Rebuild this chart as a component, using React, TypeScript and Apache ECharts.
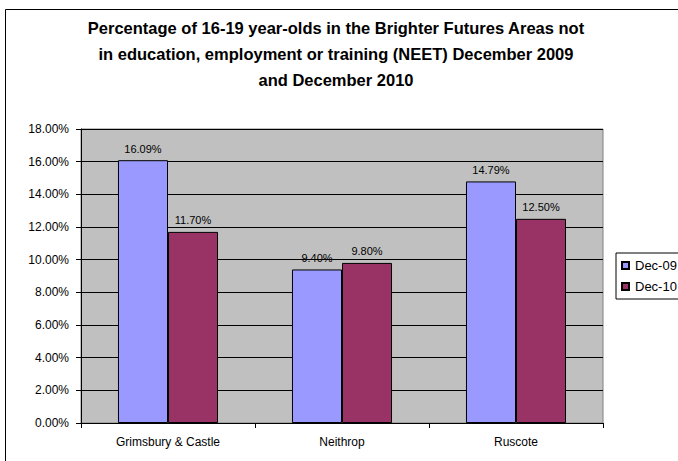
import React, { useEffect, useRef } from "react";
import * as echarts from "echarts";

const categories = ["Grimsbury & Castle", "Neithrop", "Ruscote"];
const seriesNames = ["Dec-09", "Dec-10"];
const dec09 = [0.1609, 0.094, 0.1479];
const dec10 = [0.117, 0.098, 0.125];
const titleText =
  "Percentage of 16-19 year-olds in the Brighter Futures Areas not\nin education, employment or training (NEET) December 2009\nand December 2010";
const yMin = 0;
const yMax = 0.18;
const yInterval = 0.02;

const FONT = "'Liberation Sans', Arial, sans-serif";

const pct = (v: number) => (v * 100).toFixed(2) + "%";

export default function App() {
  const ref = useRef<HTMLDivElement>(null);
  useEffect(() => {
    if (!ref.current) return;
    const chart = echarts.init(ref.current, undefined, { renderer: "svg" });
    const colors = ["#9999FF", "#993366"];
    chart.setOption({
      animation: false,
      backgroundColor: "#ffffff",
      textStyle: { fontFamily: FONT },
      title: {
        text: titleText,
        left: 331,
        top: 10,
        textAlign: "center",
        textStyle: {
          fontFamily: FONT,
          fontSize: 16.5,
          fontWeight: "bold",
          color: "#000",
          lineHeight: 26,
        },
      },
      graphic: [
        {
          type: "rect",
          shape: { x: 5.5, y: 9.5, width: 900, height: 900 },
          style: { fill: "none", stroke: "#000", lineWidth: 1 },
          silent: true,
          z: -1,
        },
      ],
      legend: {
        orient: "vertical",
        left: 616,
        top: 253,
        padding: [6, 40, 6, 5],
        itemGap: 8,
        itemWidth: 7,
        itemHeight: 7,
        icon: "rect",
        borderColor: "#000",
        borderWidth: 1,
        textStyle: { fontFamily: FONT, fontSize: 13, color: "#000", padding: [0, 0, 0, 1] },
        data: seriesNames,
      },
      grid: {
        left: 81,
        right: 75,
        top: 129,
        bottom: 38,
        show: true,
        backgroundColor: "#C0C0C0",
        borderColor: "#808080",
        borderWidth: 1,
        containLabel: false,
      },
      xAxis: {
        type: "category",
        data: categories,
        axisLine: { lineStyle: { color: "#000", width: 1 } },
        axisTick: { show: true, alignWithLabel: false, length: 5, lineStyle: { color: "#000" } },
        axisLabel: { fontFamily: FONT, fontSize: 12, color: "#000", margin: 13 },
        splitLine: { show: false },
      },
      yAxis: {
        type: "value",
        min: yMin,
        max: yMax,
        interval: yInterval,
        axisLine: { show: true, lineStyle: { color: "#000", width: 1 } },
        axisTick: { show: true, length: 5, lineStyle: { color: "#000" } },
        axisLabel: {
          fontFamily: FONT,
          fontSize: 12,
          color: "#000",
          margin: 12,
          formatter: (v: number) => pct(v),
        },
        splitLine: { show: true, lineStyle: { color: "#000", width: 1 } },
      },
      series: [
        {
          name: seriesNames[0],
          type: "bar",
          data: dec09,
          barGap: "0%",
          barCategoryGap: "42.5%",
          itemStyle: { color: colors[0], borderColor: "#000", borderWidth: 1 },
          label: {
            show: true,
            position: "top",
            distance: 6,
            fontFamily: FONT,
            fontSize: 11,
            color: "#000",
            formatter: (p: any) => pct(p.value),
          },
        },
        {
          name: seriesNames[1],
          type: "bar",
          data: dec10,
          barGap: "0%",
          barCategoryGap: "42.5%",
          itemStyle: { color: colors[1], borderColor: "#000", borderWidth: 1 },
          label: {
            show: true,
            position: "top",
            distance: 6,
            fontFamily: FONT,
            fontSize: 11,
            color: "#000",
            formatter: (p: any) => pct(p.value),
          },
        },
      ],
    });
    return () => chart.dispose();
  }, []);
  return (
    <div
      ref={ref}
      style={{ position: "fixed", left: 0, top: 0, width: 678, height: 461, overflow: "hidden" }}
    />
  );
}
